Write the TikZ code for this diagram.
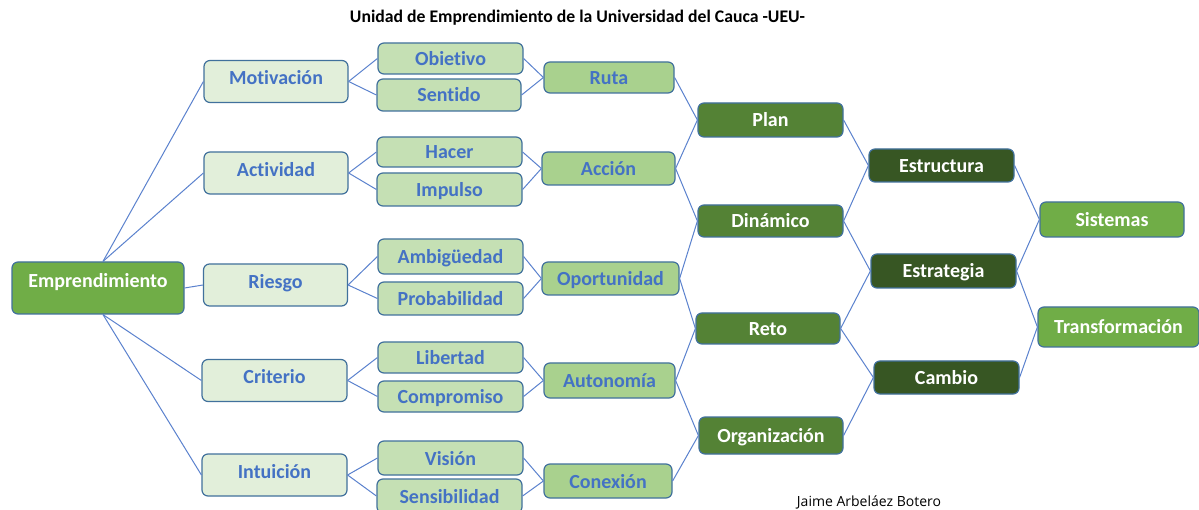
\documentclass[tikz,border=0pt]{standalone}
\usepackage{fontspec}
\setmainfont{Carlito}[Ligatures={NoCommon}]
\newfontfamily\signfont{Open Sans}
\definecolor{lineblue}{HTML}{5B82CE}
\definecolor{txtblue}{HTML}{4472C4}
\definecolor{bordblue}{HTML}{41719C}
\definecolor{fillA}{HTML}{E2EFDA}
\definecolor{fillB}{HTML}{C5E0B4}
\definecolor{fillC}{HTML}{A9D18E}
\definecolor{fillD}{HTML}{548235}
\definecolor{fillE}{HTML}{375623}
\definecolor{fillF}{HTML}{70AD47}
\begin{document}
\begin{tikzpicture}[x=1pt,y=-1pt,
  box/.style={draw=bordblue, line width=1.2pt, rounded corners=6pt, inner sep=0pt,
    font=\bfseries\fontsize{20}{20}\selectfont, text height=15pt, text depth=1pt},
  lvA/.style={box, fill=fillA, text=txtblue, minimum width=144, minimum height=42, text height=13pt, text depth=6pt},
  lvB/.style={box, fill=fillB, text=txtblue, minimum width=145, minimum height=32},
  lvC/.style={box, fill=fillC, text=txtblue, minimum width=133, minimum height=33},
  lvD/.style={box, fill=fillD, text=white, minimum width=145, minimum height=33},
  lvE/.style={box, fill=fillE, text=white, minimum width=145, minimum height=33},
  lvF/.style={box, fill=fillF, text=white, minimum width=144, minimum height=35},
  link/.style={draw=lineblue, line width=1pt}]
\useasboundingbox (0,0) rectangle (1199,510);
\clip (0,0) rectangle (1199,510);
\fill[white] (0,0) rectangle (1199,510);

% title and signature
\node[font=\bfseries\fontsize{17.7}{17.7}\selectfont, inner sep=0pt] (title) at (577.5,18) {Unidad de Emprendimiento de la Universidad del Cauca -UEU-};
\node[font=\signfont\fontsize{14}{14}\selectfont, inner sep=0pt] (sign) at (869,502) {Jaime Arbeláez Botero};

% root
\node[lvF, minimum width=172, minimum height=52, text height=13pt, text depth=13pt] (emp) at (98,288) {Emprendimiento};

% level A
\node[lvA] (mot) at (276,81.5) {Motivación};
\node[lvA] (act) at (276,173) {Actividad};
\node[lvA] (rie) at (275.5,285) {Riesgo};
\node[lvA, minimum width=145] (cri) at (274.5,380.5) {Criterio};
\node[lvA, minimum width=145] (int) at (274.5,475) {Intuición};

% level B
\node[lvB, minimum height=31] (obj) at (450.5,58.5) {Obietivo};
\node[lvB, minimum width=144] (sen) at (449,95) {Sentido};
\node[lvB, minimum height=30] (hac) at (449.5,152) {Hacer};
\node[lvB, minimum height=33] (imp) at (449.5,189.5) {Impulso};
\node[lvB, minimum height=35] (amb) at (450.5,256.5) {Ambigüedad};
\node[lvB, minimum height=33] (pro) at (450.5,298.5) {Probabilidad};
\node[lvB, minimum height=31] (lib) at (450.5,357.5) {Libertad};
\node[lvB, minimum height=31] (com) at (450.5,396.5) {Compromiso};
\node[lvB, minimum height=34] (vis) at (450.5,458) {Visión};
\node[lvB, minimum height=34] (sens) at (449.5,496) {Sensibilidad};

% level C
\node[lvC, minimum width=130, minimum height=31] (ruta) at (609,77.5) {Ruta};
\node[lvC] (acc) at (608.5,168.5) {Acción};
\node[lvC, minimum width=137] (opo) at (610.5,278.5) {Oportunidad};
\node[lvC, minimum width=131, minimum height=35] (aut) at (609.5,380.5) {Autonomía};
\node[lvC, minimum width=128, minimum height=34] (con) at (608,481) {Conexión};

% level D
\node[lvD, minimum height=34] (plan) at (770.5,120) {Plan};
\node[lvD, minimum height=32] (din) at (770.5,221) {Dinámico};
\node[lvD, minimum width=144, minimum height=31] (reto) at (768,328.5) {Reto};
\node[lvD, minimum width=144, minimum height=37] (org) at (771,435.5) {Organización};

% level E
\node[lvE] (estru) at (941.5,165.5) {Estructura};
\node[lvE, minimum height=34] (estra) at (943.5,271) {Estrategia};
\node[lvE] (cam) at (946.5,377.5) {Cambio};

% level F
\node[lvF] (sis) at (1112,219.5) {Sistemas};
\node[lvF, minimum width=161, minimum height=40] (tra) at (1118.5,327) {Transformación};

% connectors
\coordinate (empT) at ([xshift=5pt]emp.north);
\coordinate (empB) at ([xshift=5pt]emp.south);
\draw[link] (empT) -- (mot.west);
\draw[link] (empT) -- (act.west);
\draw[link] (emp.east) -- (rie.west);
\draw[link] (empB) -- (cri.west);
\draw[link] (empB) -- (int.west);

\foreach \p/\a/\b in {mot/obj/sen, act/hac/imp, rie/amb/pro, cri/lib/com, int/vis/sens}{
  \draw[link] (\p.east) -- (\a.west);
  \draw[link] (\p.east) -- (\b.west);
}
\foreach \a/\b/\c in {obj/sen/ruta, hac/imp/acc, amb/pro/opo, lib/com/aut, vis/sens/con}{
  \draw[link] (\a.east) -- (\c.west);
  \draw[link] (\b.east) -- (\c.west);
}
\foreach \a/\b in {ruta/plan, acc/plan, acc/din, opo/din, opo/reto, aut/reto, aut/org, con/org,
  plan/estru, din/estru, din/estra, reto/estra, reto/cam, org/cam,
  estru/sis, estra/sis, estra/tra, cam/tra}{
  \draw[link] (\a.east) -- (\b.west);
}
\end{tikzpicture}
\end{document}
